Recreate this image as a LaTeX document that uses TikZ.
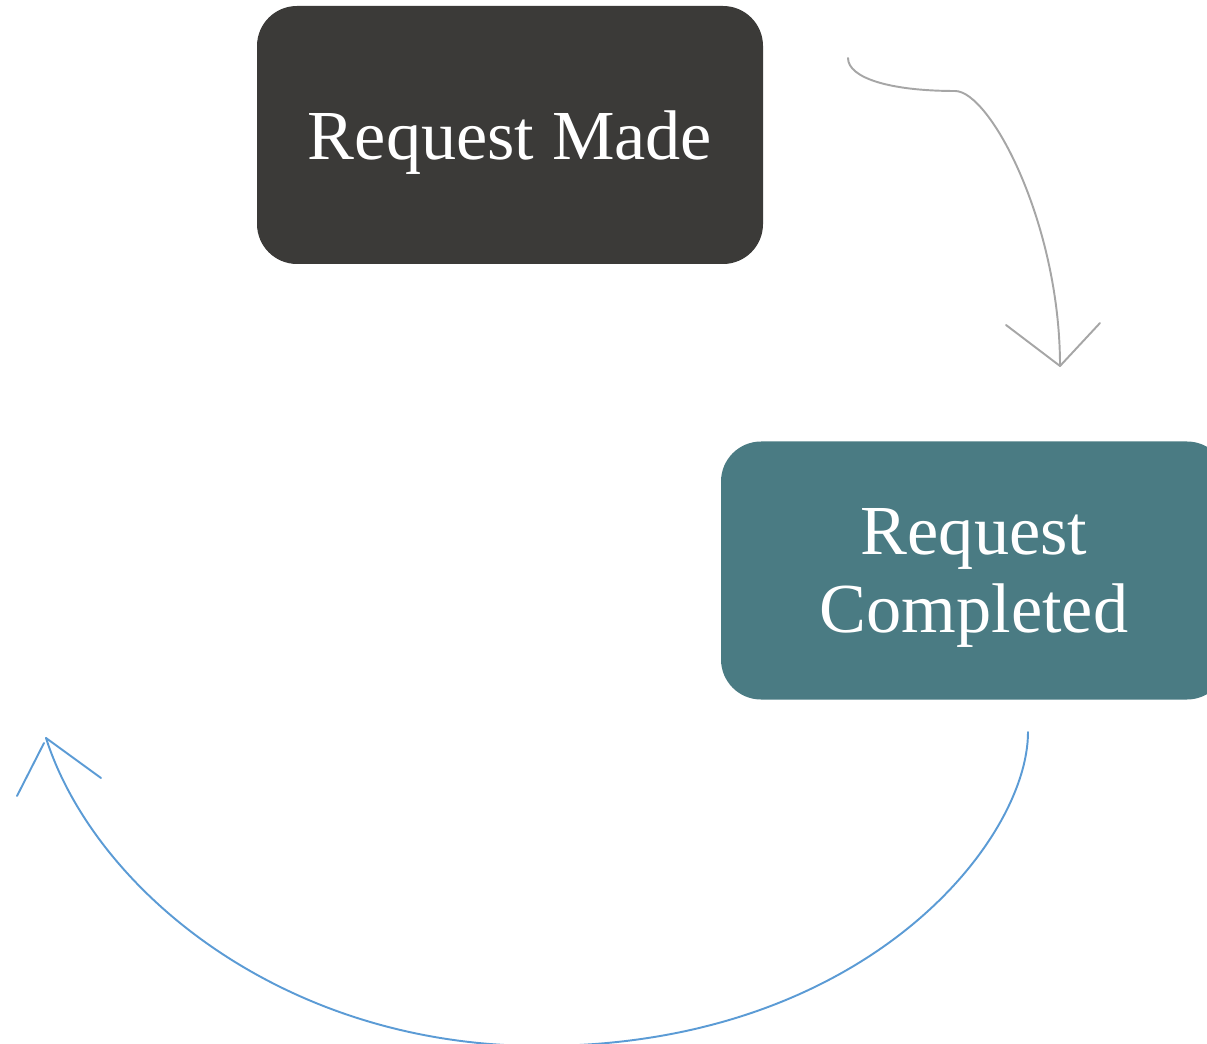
\documentclass[tikz,border=0pt]{standalone}
\usepackage{fontspec}
\setmainfont{Liberation Serif}
\usepackage{tikz}
\definecolor{madeblock}{RGB}{59, 58, 56}
\definecolor{doneblock}{RGB}{74, 123, 131}
\definecolor{grayline}{RGB}{166, 166, 166}
\definecolor{blueline}{RGB}{91, 155, 213}

\begin{document}
\begin{tikzpicture}[
		stagebox/.style={rounded corners=0.8cm, minimum width=10.12cm, minimum height=5.16cm,
			inner sep=0pt, align=center, text=white, text depth=-1.5pt,
			font=\fontsize{40}{44}\selectfont},
		linkline/.style={line width=1.1pt, line cap=round}
	]
			\def\pw{24.14}
			\def\ph{20.86}
			\useasboundingbox (0,0) rectangle (\pw,\ph);
			\clip (0,0) rectangle (\pw,\ph);

			% the two stages
			\node[stagebox, fill=madeblock] (made) at (10.2, 18.16) {Request Made};
			\node[stagebox, fill=doneblock] (completed) at (19.48, 9.45) {Request\\Completed};

			% end points of the arrows
			\coordinate (graystart) at (16.96, 19.70);
			\coordinate (graybend) at (19.10, 19.04);
			\coordinate (graytip) at (21.20, 13.54);
			\coordinate (bluestart) at (20.56, 6.22);
			\coordinate (bluelow) at (10.80, -0.06);
			\coordinate (bluetip) at (0.92, 6.10);

			% grey arrow: made -> completed
			\draw[linkline, grayline] (graystart) .. controls (16.96, 19.30) and (17.80, 19.04) .. (graybend)
				.. controls (19.80, 19.04) and (21.20, 16.40) .. (graytip);
			\draw[linkline, grayline] (graytip) -- ++(-1.08, 0.82);
			\draw[linkline, grayline] (graytip) -- ++(0.80, 0.86);

			% blue arrow: completed -> back round
			\draw[linkline, blueline] (bluestart) .. controls (20.56, 4.04) and (17.30, -0.06) .. (bluelow)
				.. controls (5.62, -0.06) and (1.88, 3.10) .. (bluetip);
			\draw[linkline, blueline] ([shift={(-0.04,-0.10)}]bluetip) -- ++(-0.54, -1.06);
			\draw[linkline, blueline] (bluetip) -- ++(1.10, -0.80);

		\end{tikzpicture}
\end{document}
